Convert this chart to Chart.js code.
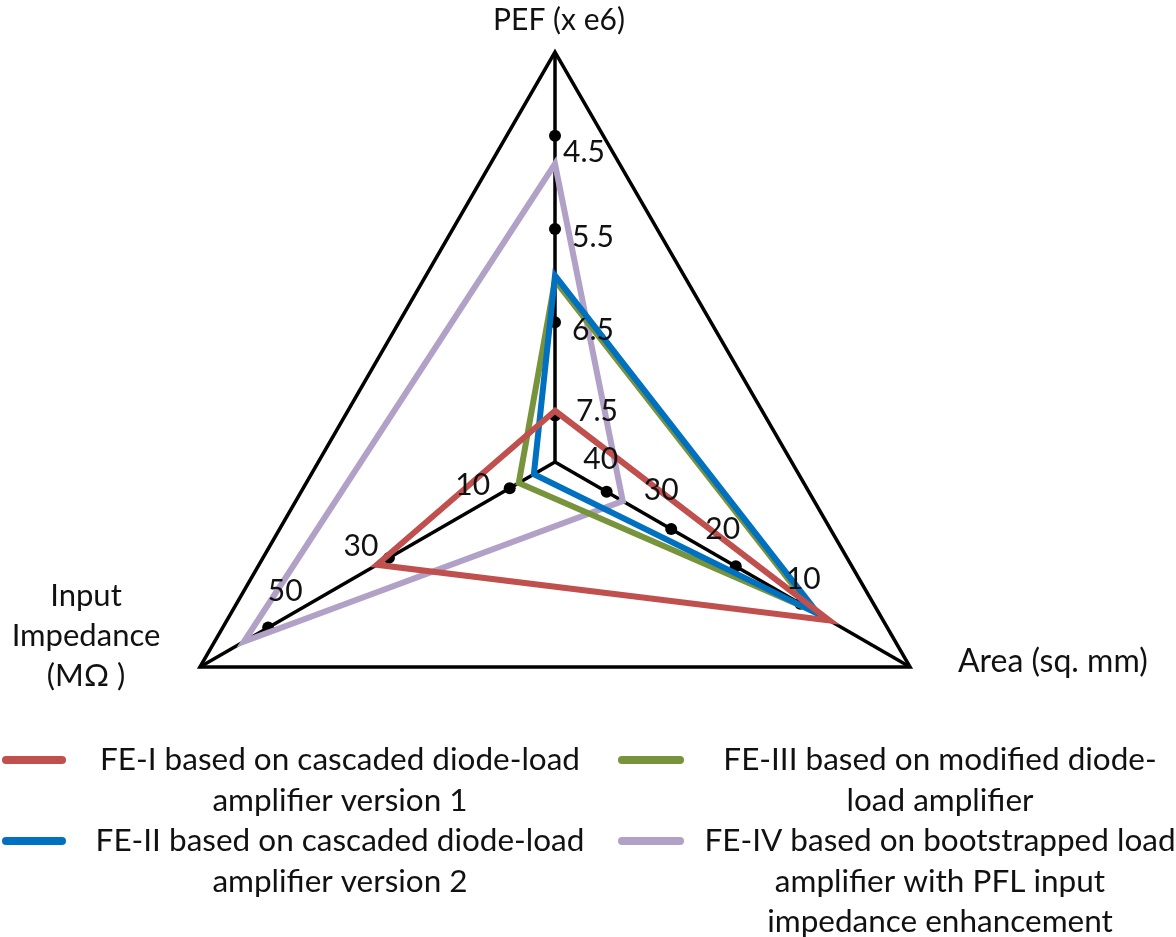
<!DOCTYPE html>
<html>
<head>
<meta charset="utf-8">
<script src="https://cdn.jsdelivr.net/npm/chart.js@4/dist/chart.umd.min.js"></script>
<style>
  html, body { margin: 0; padding: 0; background: #fff; }
  canvas { display: block; }
</style>
</head>
<body>
<canvas id="chart" width="1176" height="937"></canvas>
<script>
// Axes of the triangle, clockwise from the top
const axisNames = ['PEF (x e6)', 'Area (sq. mm)', ['Input', 'Impedance', '(MΩ )']];
// Each axis has its own range: value at the centre and value at the outer corner
const axisCentre = [8.0, 48, 2.5];
const axisOuter = [3.6, -7, 61.3];

// Tick marks shown on each axis
const pefTicks = [4.5, 5.5, 6.5, 7.5];
const areaTicks = [40, 30, 20, 10];
const impedanceTicks = [10, 30, 50];

// Series values: [PEF (x e6), Area (sq. mm), Input impedance (MΩ)]
const fe1 = [7.45, 5.5, 32];
const fe2 = [6.0, 7.2, 6];
const fe3 = [6.05, 8.0, 8.5];
const fe4 = [4.8, 37.5, 54];

const seriesLines = [
  ['FE-I based on cascaded diode-load', 'amplifier version 1'],
  ['FE-II based on cascaded diode-load', 'amplifier version 2'],
  ['FE-III based on modified diode-', 'load amplifier'],
  ['FE-IV based on bootstrapped load', 'amplifier with PFL input', 'impedance enhancement']
];
const seriesColors = ['#C0504D', '#0070C0', '#77933C', '#B2A1C7'];

const FONT = 'Lato, "Open Sans", sans-serif';
const TEXT = '#111';

// map a value on axis i to the 0..1 radial scale
function toRadial(i, v) {
  return (v - axisCentre[i]) / (axisOuter[i] - axisCentre[i]);
}

const tickSets = [pefTicks, areaTicks, impedanceTicks];
// label shift from each tick dot, in pixels
const tickLabelShift = [
  [[29, 16], [38, 8], [38, 8], [42, -4]],
  [[-6, -32], [-10, -39], [-13, -37], [3, -24]],
  [[-37, -3], [-28, -12], [17, -36]]
];

const axisTicksPlugin = {
  id: 'axisTicks',
  beforeDatasetsDraw(chart) {
    const scale = chart.scales.r;
    const ctx = chart.ctx;
    ctx.save();
    ctx.fillStyle = '#000';
    tickSets.forEach((ticks, i) => {
      ticks.forEach(t => {
        const p = scale.getPointPositionForValue(i, toRadial(i, t));
        ctx.beginPath();
        ctx.arc(p.x, p.y, 6, 0, Math.PI * 2);
        ctx.fill();
      });
    });
    ctx.restore();
  },
  afterDatasetsDraw(chart) {
    const scale = chart.scales.r;
    const ctx = chart.ctx;
    ctx.save();
    ctx.fillStyle = TEXT;
    ctx.font = '30px ' + FONT;
    ctx.textAlign = 'center';
    ctx.textBaseline = 'middle';
    tickSets.forEach((ticks, i) => {
      ticks.forEach((t, k) => {
        const p = scale.getPointPositionForValue(i, toRadial(i, t));
        const s = tickLabelShift[i][k];
        ctx.fillText(String(t), p.x + s[0], p.y + s[1]);
      });
    });
    ctx.restore();
  }
};

const titlesAndLegendPlugin = {
  id: 'titlesAndLegend',
  afterDraw(chart) {
    const ctx = chart.ctx;
    ctx.save();
    ctx.fillStyle = TEXT;
    ctx.textBaseline = 'middle';

    // axis titles
    ctx.font = '30px ' + FONT;
    ctx.textAlign = 'center';
    ctx.fillText(axisNames[0], 559, 20);
    ctx.font = '32px ' + FONT;
    ctx.textAlign = 'left';
    ctx.fillText(axisNames[1], 958, 662);
    ctx.font = '31px ' + FONT;
    ctx.textAlign = 'center';
    axisNames[2].forEach((line, j) => ctx.fillText(line, 86, 596 + j * 40));

    // legend: two columns, two entries each
    ctx.font = '31.5px ' + FONT;
    const cols = [
      { x0: 2, x1: 66, cx: 340 },
      { x0: 618, x1: 684, cx: 940 }
    ];
    const rows = [760, 841];
    const lineGap = 40.5;
    chart.data.datasets.forEach((ds, i) => {
      const c = cols[i < 2 ? 0 : 1];
      const y = rows[i % 2];
      ctx.strokeStyle = ds.borderColor;
      ctx.lineWidth = 8;
      ctx.lineCap = 'round';
      ctx.beginPath();
      ctx.moveTo(c.x0 + 4, y);
      ctx.lineTo(c.x1 - 4, y);
      ctx.stroke();
      ctx.textAlign = 'center';
      seriesLines[i].forEach((line, j) => ctx.fillText(line, c.cx, y + j * lineGap));
    });
    ctx.restore();
  }
};

const seriesValues = [fe1, fe2, fe3, fe4];

new Chart(document.getElementById('chart'), {
  type: 'radar',
  data: {
    labels: axisNames,
    datasets: seriesValues.map((vals, i) => ({
      label: seriesLines[i].join(' '),
      data: vals.map((v, k) => toRadial(k, v)),
      borderColor: seriesColors[i],
      backgroundColor: seriesColors[i],
      borderWidth: 6,
      pointRadius: 0,
      pointHoverRadius: 0,
      fill: false,
      tension: 0,
      borderJoinStyle: 'miter'
    }))
  },
  options: {
    responsive: false,
    devicePixelRatio: 1,
    animation: false,
    layout: { padding: { left: 145, right: 211, top: 52, bottom: 65 } },
    plugins: {
      legend: { display: false },
      tooltip: { enabled: false }
    },
    scales: {
      r: {
        min: 0,
        max: 1,
        beginAtZero: true,
        ticks: { display: false, stepSize: 1 },
        pointLabels: { display: false },
        grid: { color: '#000', lineWidth: 3.5, circular: false },
        angleLines: { color: '#000', lineWidth: 3.5 }
      }
    }
  },
  plugins: [axisTicksPlugin, titlesAndLegendPlugin]
});
</script>
</body>
</html>
